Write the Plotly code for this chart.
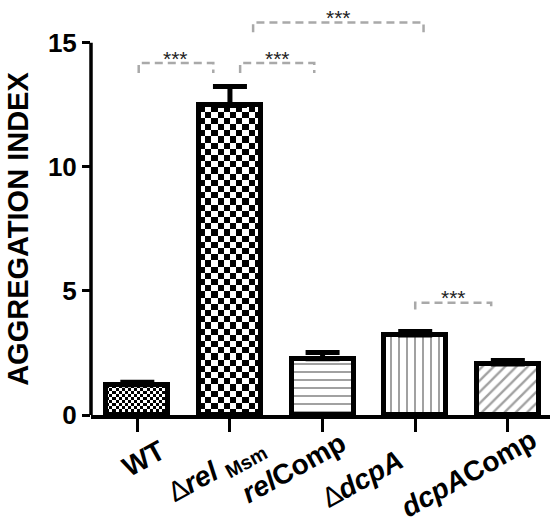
import plotly.graph_objects as go

# ---- data ----
categories = ["WT", "Δrel Msm", "relComp", "ΔdcpA", "dcpAComp"]
tick_labels = [
    "<b>WT</b>",
    "∆<b><i>rel</i> <sub>Msm</sub></b>",
    "<b><i>rel</i>Comp</b>",
    "∆<b><i>dcpA</i></b>",
    "<b><i>dcpA</i>Comp</b>",
]
values = [1.22, 12.47, 2.27, 3.22, 2.05]
errors = [0.10, 0.76, 0.25, 0.14, 0.15]
y_ticks = [0, 5, 10, 15]

# significance brackets: (from x, to x, bracket level, leg end level, label)
sig_x0 = [0.015, 1.11, 1.25, 3.0]
sig_x1 = [0.82, 1.91, 3.09, 3.82]
sig_y = [14.18, 14.18, 15.81, 4.52]
sig_drop = [13.78, 13.78, 15.42, 4.25]
sig_text = ["***", "***", "***", "***"]

# ---- style ----
FONT = "Liberation Sans, Arial, sans-serif"
BAR_W = 0.67
PX_PER_Y = 24.82
PX_PER_X = 92.7
checker_px = [3.1, 6.2, None, None, None]
pattern_shape = ["", "", "-", "|", "/"]
pattern_size = [8, 8, 8, 8, 8]
pattern_solid = [0.3, 0.3, 0.25, 0.25, 0.3]
# pixel nudges of the rotated category labels
label_dx = [36, 44, 32, -4, 36]
label_dy = [-17, -12, -9, -26, -6]

x_pos = list(range(len(categories)))

fig = go.Figure()

# checkerboard fills drawn as heatmaps under the bars
for i, cpx in enumerate(checker_px):
    if cpx is None:
        continue
    nx = max(1, round(BAR_W * PX_PER_X / cpx))
    ny = max(1, round(values[i] * PX_PER_Y / cpx))
    dx = BAR_W / nx
    dy = values[i] / ny
    z = [[(r + c) % 2 for c in range(nx)] for r in range(ny)]
    fig.add_trace(go.Heatmap(
        z=z, x0=x_pos[i] - BAR_W / 2 + dx / 2, dx=dx, y0=dy / 2, dy=dy,
        colorscale=[[0, "white"], [1, "black"]], zmin=0, zmax=1,
        showscale=False, hoverinfo="skip", zsmooth=False,
    ))

bar_colors = ["rgba(0,0,0,0)" if c is not None else "white" for c in checker_px]
fig.add_trace(go.Bar(
    x=x_pos, y=values, width=BAR_W,
    marker=dict(
        color=bar_colors,
        line=dict(color="black", width=5),
        pattern=dict(shape=pattern_shape, size=pattern_size, solidity=pattern_solid,
                     fgcolor="black", bgcolor="white", fillmode="overlay"),
    ),
    error_y=dict(type="data", symmetric=False, array=errors,
                 arrayminus=[0] * len(errors), color="black", thickness=5, width=17),
    showlegend=False, hoverinfo="skip",
))

shapes = []
shapes.append(dict(type="line", xref="paper", yref="y", x0=0, x1=0,
                   y0=0, y1=max(y_ticks), line=dict(color="black", width=3.5)))
annotations = []
for x0, x1, yv, yd, t in zip(sig_x0, sig_x1, sig_y, sig_drop, sig_text):
    shapes.append(dict(type="path", xref="x", yref="y",
                       path=f"M {x0},{yd} L {x0},{yv} L {x1},{yv} L {x1},{yd}",
                       line=dict(color="#a9a9a9", width=2.5, dash="8px,5px")))
    annotations.append(dict(x=(x0 + x1) / 2, y=yv, xref="x", yref="y", text=t,
                            showarrow=False, yanchor="middle", xanchor="center", yshift=5,
                            font=dict(family=FONT, size=21, color="#222222")))

for xp, lab, ldx, ldy in zip(x_pos, tick_labels, label_dx, label_dy):
    annotations.append(dict(x=xp, y=0, xref="x", yref="y", text=lab, showarrow=False,
                            textangle=-29, xanchor="right", yanchor="top",
                            xshift=ldx, yshift=ldy,
                            font=dict(family=FONT, size=28, color="black")))

annotations.append(dict(x=0, y=max(y_ticks) / 2, xref="paper", yref="y",
                        text="<b>AGGREGATION INDEX</b>", textangle=-90, showarrow=False,
                        xanchor="right", yanchor="middle", xshift=-55,
                        font=dict(family=FONT, size=29, color="black")))

fig.update_layout(
    width=553, height=523,
    margin=dict(l=91, r=3, t=0, b=108),
    paper_bgcolor="white", plot_bgcolor="white",
    shapes=shapes, annotations=annotations,
    bargap=0,
    xaxis=dict(range=[-0.5, 4.455], tickvals=x_pos, showticklabels=False,
               ticks="outside", ticklen=13, tickwidth=3, tickcolor="black",
               showline=True, linewidth=3.5, linecolor="black",
               showgrid=False, zeroline=False, fixedrange=True),
    yaxis=dict(range=[0, 16.72], tickvals=y_ticks, ticktext=[str(v) for v in y_ticks],
               ticks="outside", ticklen=8, tickwidth=3, tickcolor="black",
               tickfont=dict(family=FONT, size=26, color="black", weight="bold"),
               showline=False, showgrid=False, zeroline=False, fixedrange=True),
    font=dict(family=FONT),
)

fig.write_html("out.html", config={"displayModeBar": False},
               post_script="document.body.style.margin='0';")
